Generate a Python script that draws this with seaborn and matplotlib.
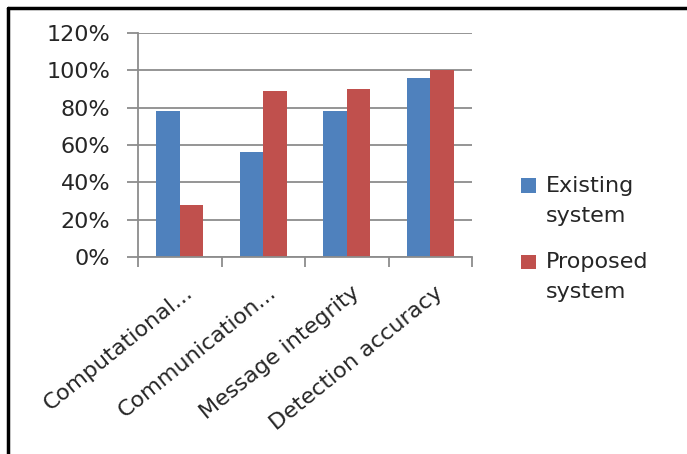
import matplotlib
matplotlib.use("Agg")
import matplotlib.pyplot as plt
import matplotlib.transforms as mtransforms
from matplotlib.lines import Line2D
from matplotlib.patches import Patch, Rectangle
from matplotlib.legend_handler import HandlerPatch
import pandas as pd
import seaborn as sns

# Chart data
categories = ["Computational...", "Communication...", "Message integrity", "Detection accuracy"]
series_names = ["Existing\nsystem", "Proposed\nsystem"]
existing = [78, 56, 78, 96]
proposed = [28, 89, 90, 100]
y_ticks = [0, 20, 40, 60, 80, 100, 120]
y_tick_labels = ["0%", "20%", "40%", "60%", "80%", "100%", "120%"]
colors = ["#4F81BD", "#C0504D"]

df = pd.DataFrame({
    "category": categories * 2,
    "series": [series_names[0]] * len(categories) + [series_names[1]] * len(categories),
    "value": existing + proposed,
})

sns.set_theme(style="white")
plt.rcParams["font.family"] = ["DejaVu Sans"]
text_color = "#262626"
fs = 16

fig = plt.figure(figsize=(6.87, 4.54), dpi=100)
ax = fig.add_axes([138 / 687, 1 - 257 / 454, (472 - 138) / 687, (257 - 33) / 454])

sns.barplot(data=df, x="category", y="value", hue="series", order=categories,
            hue_order=series_names, palette=colors, width=0.567, gap=0,
            linewidth=0, saturation=1, legend=False, ax=ax)

ax.set_xlim(-0.5, len(categories) - 0.5)
ax.set_ylim(0, 120)
ax.set_yticks(y_ticks)
ax.set_yticklabels(y_tick_labels)
ax.set_xlabel("")
ax.set_ylabel("")

# horizontal gridlines
grid_color = "#8c8c8c"
ax.yaxis.grid(True, color=grid_color, linewidth=1.3)
ax.set_axisbelow(True)
for side in ["top", "right"]:
    ax.spines[side].set_visible(False)
for side in ["left", "bottom"]:
    ax.spines[side].set_color(grid_color)
    ax.spines[side].set_linewidth(1.3)

# y ticks extend outward like gridline stubs
ax.tick_params(axis="y", which="major", left=True, length=8, width=1.3,
               color=grid_color, labelsize=fs, pad=12, labelcolor=text_color)

# x ticks at category boundaries, labels at category centres
ax.set_xticks(range(len(categories)))
ax.tick_params(axis="x", which="major", bottom=False, labelsize=fs, labelcolor=text_color)
ax.set_xticks([i - 0.5 for i in range(len(categories) + 1)], minor=True)
ax.tick_params(axis="x", which="minor", bottom=True, length=7, width=1.3, color=grid_color)

offset = mtransforms.ScaledTranslation(4 / 100, -12 / 100, fig.dpi_scale_trans)
for lbl in ax.get_xticklabels():
    lbl.set_rotation(39)
    lbl.set_ha("right")
    lbl.set_va("top")
    lbl.set_rotation_mode("anchor")
    lbl.set_transform(lbl.get_transform() + offset)


# legend swatch sits beside the first line of a two-line label
def top_square(legend, orig_handle, xdescent, ydescent, width, height, fontsize):
    side = 10.5
    return Rectangle((-xdescent, -ydescent + 11.5), side, side)


handles = [Patch(facecolor=c, edgecolor="none") for c in colors]
leg = fig.legend(handles, series_names, loc="upper left",
                 bbox_to_anchor=(510 / 687, 1 - 165 / 454), frameon=False, borderpad=0,
                 fontsize=fs, handlelength=10.5 / fs, handleheight=0.7, handletextpad=0.45,
                 labelspacing=1.2, labelcolor=text_color,
                 handler_map={Patch: HandlerPatch(patch_func=top_square)})
for t in leg.get_texts():
    t.set_linespacing(1.6)

# outer frame lines (top and left)
fig.add_artist(Line2D([8 / 687, 1.0], [1 - 8 / 454, 1 - 8 / 454], color="black", linewidth=2.5,
                      transform=fig.transFigure))
fig.add_artist(Line2D([8 / 687, 8 / 687], [0.0, 1 - 8 / 454], color="black", linewidth=2.5,
                      transform=fig.transFigure))

fig.savefig("out.png", dpi=100)
